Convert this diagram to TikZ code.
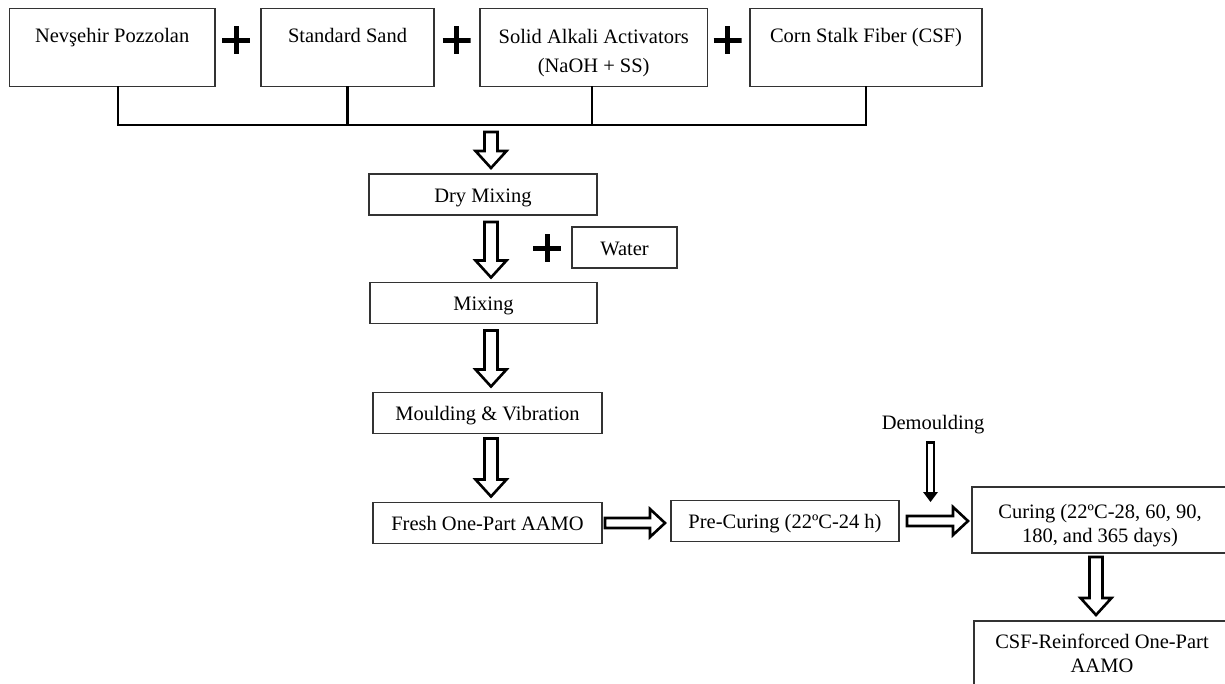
\documentclass[tikz,border=0pt]{standalone}
\usepackage{fontspec}
\setmainfont{Liberation Serif}
\usetikzlibrary{calc}
\tikzset{
  box/.style={draw=black!80, line width=1.1pt, inner sep=0pt, outer sep=0pt, align=center,
    font=\fontsize{20.5}{24}\selectfont},
  topbox/.style={box, anchor=north, text height=33.5pt, text depth=44pt},
  midbox/.style={box, minimum height=41pt, text height=28pt, text depth=13pt},
  bus/.style={line width=2.8pt, line join=miter},
  harrow/.style={draw=black, line width=2.6pt, fill=white, line join=miter},
  plussign/.style={minimum size=28pt, inner sep=0pt, outer sep=0pt,
    path picture={\draw[line width=5pt]
      (path picture bounding box.west)--(path picture bounding box.east)
      (path picture bounding box.north)--(path picture bounding box.south);}},
  lbl/.style={inner sep=0pt, font=\fontsize{20.5}{24}\selectfont}
}
\newcommand\varrow[2]{\draw[harrow] let \p1=(#1), \p2=(#2) in
  (\x1-6.5pt,\y1) -- (\x1+6.5pt,\y1) -- (\x1+6.5pt,\y2+17pt) -- (\x1+15.5pt,\y2+17pt)
  -- (\x1,\y2) -- (\x1-15.5pt,\y2+17pt) -- (\x1-6.5pt,\y2+17pt) -- cycle;}
\newcommand\harrowr[2]{\draw[harrow] let \p1=(#1), \p2=(#2) in
  (\x1,\y1+5pt) -- (\x2-15pt,\y1+5pt) -- (\x2-15pt,\y1+14pt) -- (\x2,\y1)
  -- (\x2-15pt,\y1-14pt) -- (\x2-15pt,\y1-5pt) -- (\x1,\y1-5pt) -- cycle;}
\newcommand\thinarrow[2]{%
  \draw[line width=2.1pt, fill=white] let \p1=(#1), \p2=(#2) in
    (\x1-3.2pt,\y1) rectangle (\x1+3.2pt,\y2+9pt);
  \fill let \p1=(#1), \p2=(#2) in
    (\x1-7.5pt,\y2+10pt) -- (\x1+7.5pt,\y2+10pt) -- (\x1,\y2) -- cycle;}
\begin{document}
\begin{tikzpicture}[x=1pt,y=-1pt]
\useasboundingbox (0,0) rectangle (1225,683);
\clip (0,0) rectangle (1225,683);
% top row
\node[topbox, minimum width=205.5pt] (np) at (112.2,8.7) {Nevşehir Pozzolan};
\node[topbox, minimum width=173pt] (ss) at (347.5,8.7) {Standard Sand};
\node[topbox, minimum width=227.5pt, text height=63.3pt, text depth=14.2pt,
  font=\fontsize{20.5}{28.5}\selectfont] (sa) at (593.7,8.7) {Solid Alkali Activators\\(NaOH + SS)};
\node[topbox, minimum width=232pt] (csf) at (866,8.7) {Corn Stalk Fiber (CSF)};
\node[plussign] (p1) at (236,40) {};
\node[plussign] (p2) at (456.5,40) {};
\node[plussign] (p3) at (727.5,40) {};
% bus
\coordinate (bl) at (118,125);
\coordinate (sx) at (592,125);
\draw[bus] (np.south -| bl) -- (bl) -- (csf.south |- bl) -- (csf.south);
\draw[bus] (ss.south) -- (ss.south |- bl);
\draw[bus] (sa.south -| sx) -- (sx);
% process column
\node[midbox, minimum width=228pt] (dry) at (483,194.5) {Dry Mixing};
\node[plussign] (p4) at (547,248) {};
\node[midbox, minimum width=105pt] (water) at (624.5,247.5) {Water};
\node[midbox, minimum width=227pt] (mix) at (483.5,303) {Mixing};
\node[midbox, minimum width=229pt] (mould) at (487.5,413) {Moulding \& Vibration};
\node[midbox, minimum width=229pt] (fresh) at (487.5,523) {Fresh One-Part AAMO};
\node[midbox, minimum width=228pt] (pre) at (785,521) {Pre-Curing (22ºC-24 h)};
\node[box, minimum width=256pt, text height=55pt, text depth=11pt] (cur) at (1100,520) {Curing (22ºC-28, 60, 90,\\180, and 365 days)};
\node[box, minimum width=256pt, text height=51pt, text depth=15pt] (csfr) at (1102,654) {CSF-Reinforced One-Part\\AAMO};
\node[lbl] (dem) at (933,425) {Demoulding};
% arrow anchors
\coordinate (ax) at (491,0);
\coordinate (ax2) at (1096,0);
\coordinate (a1s) at ($(ax|-bl)+(0,7)$);
\coordinate (a1e) at ($(ax|-dry.north)+(0,-6)$);
\coordinate (a2s) at ($(ax|-dry.south)+(0,7)$);
\coordinate (a2e) at ($(ax|-mix.north)+(0,-5)$);
\coordinate (a3s) at ($(ax|-mix.south)+(0,7)$);
\coordinate (a3e) at ($(ax|-mould.north)+(0,-6)$);
\coordinate (a4s) at ($(ax|-mould.south)+(0,5)$);
\coordinate (a4e) at ($(ax|-fresh.north)+(0,-6)$);
\coordinate (a5s) at ($(ax2|-cur.south)+(0,4)$);
\coordinate (a5e) at ($(ax2|-csfr.north)+(0,-6)$);
\coordinate (h1s) at ($(fresh.east)+(3,0)$);
\coordinate (h1e) at ($(pre.west|-fresh.east)+(-6,0)$);
\coordinate (h2s) at ($(pre.east)+(8,0)$);
\coordinate (h2e) at ($(cur.west|-pre.east)+(-4,0)$);
\coordinate (d1s) at ($(dem.south)+(-2.5,8)$);
\coordinate (d1e) at ($(cur.west)+(-41.5,-18)$);
\varrow{a1s}{a1e}
\varrow{a2s}{a2e}
\varrow{a3s}{a3e}
\varrow{a4s}{a4e}
\varrow{a5s}{a5e}
\harrowr{h1s}{h1e}
\harrowr{h2s}{h2e}
\thinarrow{d1s}{d1e}
\end{tikzpicture}
\end{document}
